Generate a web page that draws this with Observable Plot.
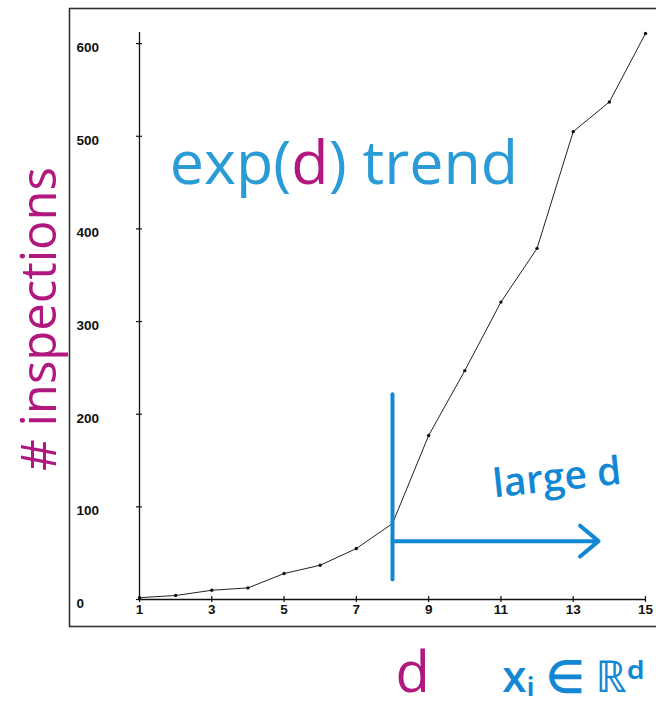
<!DOCTYPE html>
<html><head><meta charset="utf-8">
<script src="https://cdn.jsdelivr.net/npm/d3@7"></script>
<script src="https://cdn.jsdelivr.net/npm/@observablehq/plot@0.6"></script>
<style>html,body{margin:0;padding:0;background:#fff} svg{display:block}</style>
</head><body><div id="chart"></div>
<script>
// ---- data ----
const dims = [1, 2, 3, 4, 5, 6, 7, 8, 9, 10, 11, 12, 13, 14, 15];
const inspections = [2, 4.3, 10, 12.5, 28, 37, 55, 82, 177, 247, 321, 379, 505, 537, 611];
const xTicks = [1, 3, 5, 7, 9, 11, 13, 15];
const yTicks = [0, 100, 200, 300, 400, 500, 600];
const yMax = 612;
const titleParts = ["exp(", "d", ") trend"];
const yLabel = "# inspections";
const xLabel = "d";
const domainLabel = "xᵢ ∈ ℝᵈ";
const noteLabel = "large d";
// annotation values
const cutoffD = [8];
const cutoffRange = [21, 221];
const arrowFrom = [8], arrowTo = [13.7], arrowLevel = [63];
const titlePos = {d: 1.84, n: 449};
const notePos = {d: 12.55, n: 131};

const data = dims.map((d, i) => ({d, n: inspections[i]}));
const title = titleParts.join("");

const blue = "#1287d4", lightBlue = "#2a9bd6", magenta = "#b0177f";
const tickFont = "Liberation Sans, Arial, sans-serif";
const textFont = "Open Sans, Noto Sans, sans-serif";

const plot = Plot.plot({
  width: 656, height: 708,
  marginLeft: 139, marginRight: 11, marginTop: 32, marginBottom: 109,
  x: {domain: [1, 15], axis: null},
  y: {domain: [0, yMax], axis: null},
  style: {background: "white"},
  marks: [
    Plot.frame({stroke: "#333", strokeWidth: 1.6, insetLeft: -70, insetTop: -24, insetBottom: -27, insetRight: -40}),
    // axes lines
    Plot.ruleX([1], {y1: 0, y2: yMax, stroke: "#111", strokeWidth: 1.3}),
    Plot.ruleY([0], {x1: 1, x2: 15, stroke: "#111", strokeWidth: 1.3}),
    // tick marks crossing the axes
    Plot.ruleY(yTicks, {y: d => d, x1: 1, x2: 1, insetLeft: -3, insetRight: -3, stroke: "#111", strokeWidth: 1.2}),
    Plot.ruleX(xTicks, {x: d => d, y1: 0, y2: 0, insetTop: -3, insetBottom: -3, stroke: "#111", strokeWidth: 1.2}),
    // tick labels
    Plot.text(yTicks, {y: d => d, text: d => String(d), frameAnchor: "left", dx: -63, dy: 4, textAnchor: "start",
      fontSize: 13.5, fontWeight: "bold", fontFamily: tickFont, fill: "#111"}),
    Plot.text(xTicks, {x: d => d, text: d => String(d), frameAnchor: "bottom", dy: 14,
      fontSize: 13.5, fontWeight: "bold", fontFamily: tickFont, fill: "#111"}),
    // series
    Plot.line(data, {x: "d", y: "n", stroke: "#222", strokeWidth: 1}),
    Plot.dot(data, {x: "d", y: "n", r: 1.7, fill: "#111", stroke: "none"}),
    // hand-drawn annotations
    Plot.ruleX(cutoffD, {x: d => d, y1: cutoffRange[0], y2: cutoffRange[1], stroke: blue, strokeWidth: 4, strokeLinecap: "round"}),
    Plot.arrow(arrowLevel, {x1: arrowFrom[0], x2: arrowTo[0], y1: d => d, y2: d => d, stroke: blue, strokeWidth: 4,
      headLength: 9, headAngle: 80, strokeLinecap: "round"}),
    Plot.text([noteLabel], {x: notePos.d, y: notePos.n, text: d => d, rotate: -6, fontSize: 39, fontWeight: 600,
      fontFamily: textFont, fill: blue}),
    // title inside the plot
    Plot.text([title], {x: titlePos.d, y: titlePos.n, text: d => d, textAnchor: "start", lineAnchor: "bottom",
      fontSize: 61, fontFamily: textFont, fill: lightBlue}),
    // axis titles
    Plot.text([yLabel], {frameAnchor: "left", dx: -99, dy: 3, rotate: -90, textAnchor: "middle", text: d => d, fontSize: 49,
      fontFamily: textFont, fill: magenta}),
    Plot.text([xLabel], {frameAnchor: "bottom-left", dx: 273, dy: 92, textAnchor: "middle", lineAnchor: "bottom", text: d => d, fontSize: 56,
      fontFamily: textFont, fill: magenta}),
    Plot.text([domainLabel], {frameAnchor: "bottom-left", dx: 434, dy: 92, textAnchor: "middle", lineAnchor: "bottom", text: d => d, fontSize: 44,
      fontWeight: 600, fontFamily: textFont, fill: blue})
  ]
});

// colour the "d" in the title differently
d3.select(plot).selectAll("text").filter(function () { return this.textContent === title; }).each(function () {
  const t = d3.select(this);
  t.text(null);
  titleParts.forEach((p, i) => t.append("tspan").attr("fill", i === 1 ? magenta : lightBlue).text(p));
});

document.getElementById("chart").appendChild(plot);
</script>
</body></html>
